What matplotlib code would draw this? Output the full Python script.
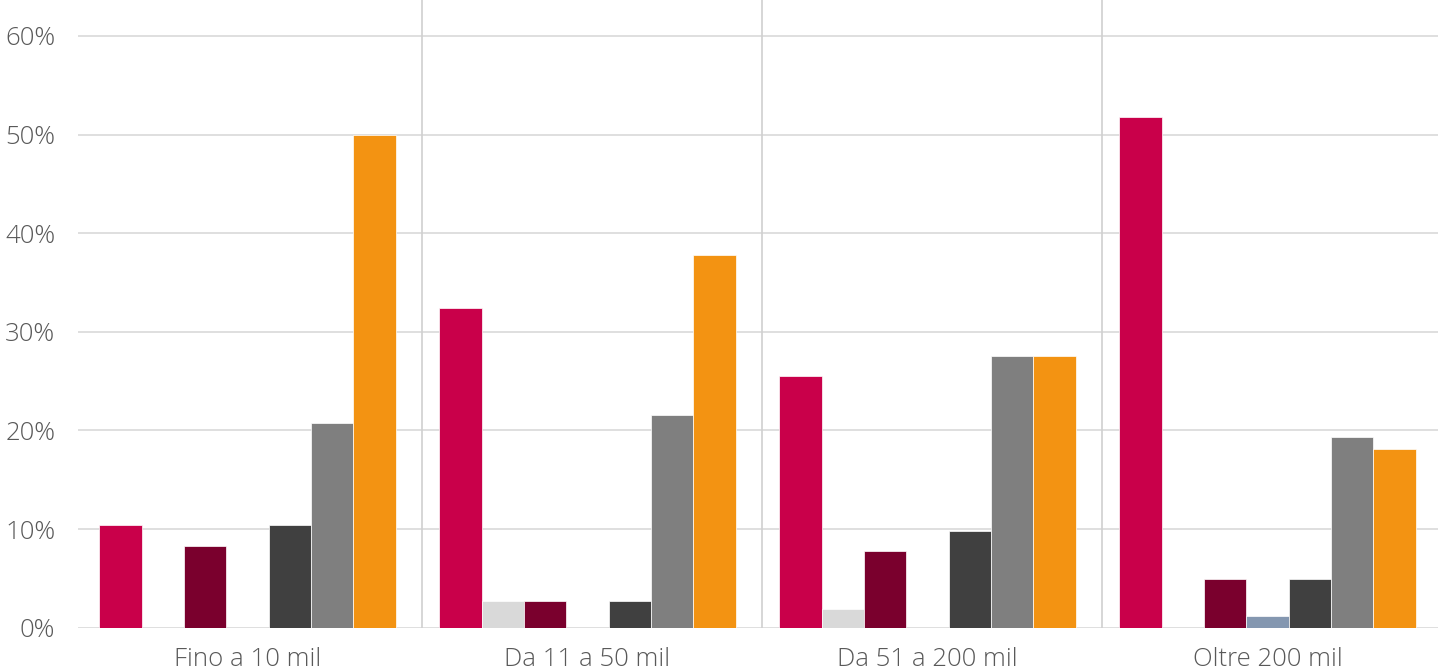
import matplotlib
matplotlib.use("Agg")
import matplotlib.pyplot as plt
import numpy as np

categories = ["Fino a 10 mil", "Da 11 a 50 mil", "Da 51 a 200 mil", "Oltre 200 mil"]

# values in percent, one list per series (legend not shown in the reference)
serie_1 = [10.4, 32.4, 25.5, 51.8]   # crimson
serie_2 = [0.0, 2.7, 1.9, 0.0]       # light gray
serie_3 = [8.3, 2.7, 7.8, 4.9]       # maroon
serie_4 = [0.0, 0.0, 0.0, 1.2]       # blue gray
serie_5 = [10.4, 2.7, 9.8, 4.9]      # dark gray
serie_6 = [20.8, 21.6, 27.5, 19.3]   # gray
serie_7 = [50.0, 37.8, 27.5, 18.1]   # orange

series = [serie_1, serie_2, serie_3, serie_4, serie_5, serie_6, serie_7]
colors = ["#C9004A", "#D9D9D9", "#7A002D", "#8497B0", "#404040", "#7F7F7F", "#F39312"]

yticks = [0, 10, 20, 30, 40, 50, 60]

plt.rcParams['font.family'] = ['Open Sans', 'DejaVu Sans']

fig = plt.figure(figsize=(14.39, 6.71), dpi=100)
ax = fig.add_axes([77.5 / 1439, (671 - 627.7) / 671, 1360 / 1439, 627.7 / 671])

n = len(series)
w = 0.8725 / n
x = np.arange(len(categories))
for j, (vals, c) in enumerate(zip(series, colors)):
    ax.bar(x + (j - (n - 1) / 2) * w, vals, width=w, color=c,
           edgecolor="white", linewidth=0.5, zorder=3)

ax.set_xlim(-0.5, len(categories) - 0.5)
ax.set_ylim(0, 60 + 36 / 98.67 * 10)
ax.set_yticks(yticks)
ax.set_yticklabels([f"{v}%" for v in yticks])
ax.set_xticks(x)
ax.set_xticklabels(categories)

for v in yticks:
    ax.axhline(v, color="#D9D9D9", lw=1.2, zorder=1)
for i in range(len(categories) - 1):
    ax.axvline(i + 0.5 + 0.012, color="#D0D0D0", lw=1.2, zorder=1)

for s in ax.spines.values():
    s.set_visible(False)
ax.tick_params(axis="both", length=0, colors="#595959", labelsize=18.5)
ax.tick_params(axis="y", pad=16)
ax.tick_params(axis="x", pad=14)
for lab in ax.get_xticklabels() + ax.get_yticklabels():
    lab.set_fontweight("light")

fig.savefig("out.png", dpi=100, facecolor="white")
